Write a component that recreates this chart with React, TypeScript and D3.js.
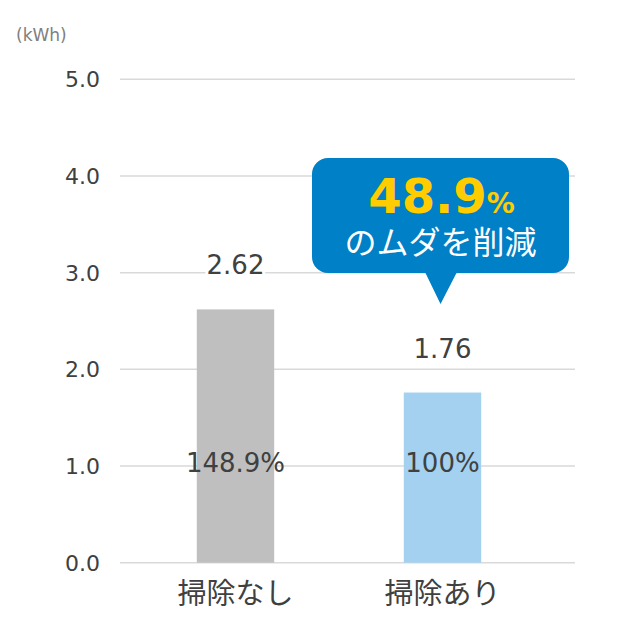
import { useMemo } from "react";
import * as d3 from "d3";

const width = 620;
const height = 620;
const margin = { top: 79, right: 45, bottom: 57, left: 120 };

const categories = ["掃除なし", "掃除あり"];
const values = [2.62, 1.76];
const valueLabels = ["2.62", "1.76"];
const ratioLabels = ["148.9%", "100%"];
const barColors = ["#BFBFBF", "#A3D1EF"];
const yTicks = [0, 1, 2, 3, 4, 5];
const unitLabel = "(kWh)";
const calloutNumber = "48.9";
const calloutUnit = "%";
const calloutText = "のムダを削減";

const font = "'DejaVu Sans', 'Noto Sans CJK JP', sans-serif";
const textColor = "#404040";

const App = () => {
  const { xScale, yScale } = useMemo(() => {
    const xScale = d3
      .scaleBand<string>()
      .domain(categories)
      .range([132, 546])
      .paddingInner(0.626)
      .paddingOuter(0.313);
    const yScale = d3
      .scaleLinear()
      .domain([0, 5])
      .range([height - margin.bottom - 0.3, margin.top + 0.3]);
    return { xScale, yScale };
  }, []);

  const bw = xScale.bandwidth();

  // callout bubble pointing at the second bar
  const tipX = (xScale(categories[1]) ?? 0) + bw / 2 - 2;
  const box = { x0: 312, x1: 569, y0: 158, y1: 273, r: 16 };
  const bubble = d3.path();
  bubble.moveTo(box.x0 + box.r, box.y0);
  bubble.lineTo(box.x1 - box.r, box.y0);
  bubble.arcTo(box.x1, box.y0, box.x1, box.y0 + box.r, box.r);
  bubble.lineTo(box.x1, box.y1 - box.r);
  bubble.arcTo(box.x1, box.y1, box.x1 - box.r, box.y1, box.r);
  bubble.lineTo(tipX + 16, box.y1);
  bubble.lineTo(tipX, box.y1 + 31);
  bubble.lineTo(tipX - 15, box.y1);
  bubble.lineTo(box.x0 + box.r, box.y1);
  bubble.arcTo(box.x0, box.y1, box.x0, box.y1 - box.r, box.r);
  bubble.lineTo(box.x0, box.y0 + box.r);
  bubble.arcTo(box.x0, box.y0, box.x0 + box.r, box.y0, box.r);
  bubble.closePath();
  const boxCx = (box.x0 + box.x1) / 2;

  return (
    <svg
      width={width}
      height={height}
      style={{ position: "absolute", left: 0, top: 0, background: "#fff" }}
      fontFamily={font}
    >
      <text x={16} y={41} fontSize={17} fill="#808080">
        {unitLabel}
      </text>

      {/* grid + y ticks */}
      {yTicks.map((t) => (
        <g key={t}>
          <line
            x1={margin.left}
            x2={width - margin.right}
            y1={yScale(t)}
            y2={yScale(t)}
            stroke="#D9D9D9"
            strokeWidth={1.5}
          />
          <text
            x={100}
            y={yScale(t) + 8}
            textAnchor="end"
            fontSize={22}
            fill={textColor}
          >
            {t.toFixed(1)}
          </text>
        </g>
      ))}

      {/* bars */}
      {values.map((v, i) => (
        <rect
          key={categories[i]}
          x={xScale(categories[i])}
          y={yScale(v)}
          width={bw}
          height={yScale(0) - yScale(v)}
          fill={barColors[i]}
        />
      ))}

      {/* value labels */}
      {values.map((v, i) => (
        <text
          key={"v" + i}
          x={(xScale(categories[i]) ?? 0) + bw / 2}
          y={yScale(v) - 35}
          textAnchor="middle"
          fontSize={26}
          fill={textColor}
          stroke="#fff"
          strokeWidth={6}
          paintOrder="stroke"
        >
          {valueLabels[i]}
        </text>
      ))}

      {/* ratio labels */}
      {ratioLabels.map((l, i) => (
        <text
          key={"r" + i}
          x={(xScale(categories[i]) ?? 0) + bw / 2}
          y={yScale(1) + 6}
          textAnchor="middle"
          fontSize={26}
          fill={textColor}
        >
          {l}
        </text>
      ))}

      {/* category labels */}
      {categories.map((c) => (
        <text
          key={c}
          x={(xScale(c) ?? 0) + bw / 2}
          y={604}
          textAnchor="middle"
          fontSize={29}
          fill={textColor}
        >
          {c}
        </text>
      ))}

      {/* callout */}
      <path d={bubble.toString()} fill="#0080C6" />
      <text x={boxCx + 1} y={213} textAnchor="middle" fontWeight="bold" fill="#FFCC00">
        <tspan fontSize={48}>{calloutNumber}</tspan>
        <tspan fontSize={28}>{calloutUnit}</tspan>
      </text>
      <text x={boxCx} y={254} textAnchor="middle" fontSize={32} fill="#fff">
        {calloutText}
      </text>
    </svg>
  );
};

export default App;
